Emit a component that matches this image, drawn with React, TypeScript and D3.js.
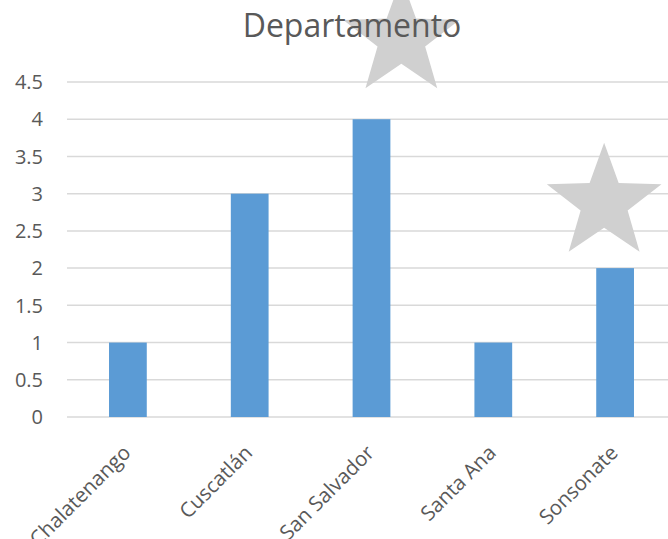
import { useEffect, useRef } from 'react'
import * as d3 from 'd3'

const categories = ['Chalatenango', 'Cuscatlán', 'San Salvador', 'Santa Ana', 'Sonsonate']
const values = [1, 3, 4, 1, 2]
const yTicks = [0, 0.5, 1, 1.5, 2, 2.5, 3, 3.5, 4, 4.5]
const title = 'Departamento'

// decorative stars: category band, position inside band (0..1), value at centre, radius in value units
const starCats = ['San Salvador', 'Sonsonate']
const starBandPos = [0.745, 0.41]
const starValues = [5.08, 2.875]
const starRadius = [0.82, 0.81]

const W = 668, H = 539
const m = { top: 82, right: -8, bottom: 122, left: 67 }
const FONT = '"Open Sans", sans-serif'

export default function App() {
  const svgRef = useRef<SVGSVGElement>(null)

  useEffect(() => {
    if (!svgRef.current) return
    const svg = d3.select(svgRef.current)
    svg.selectAll('*').remove()

    const x = d3.scaleBand<string>().domain(categories)
      .range([m.left, W - m.right]).paddingInner(0.69).paddingOuter(0.345)
    const y = d3.scaleLinear().domain([0, 4.5]).range([H - m.bottom, m.top])
    const step = x.step()

    // grid
    svg.append('g').selectAll('line').data(yTicks).join('line')
      .attr('x1', m.left).attr('x2', W)
      .attr('y1', d => y(d)).attr('y2', d => y(d))
      .attr('stroke', '#d9d9d9').attr('stroke-width', 1.5)

    // y tick labels
    svg.append('g').selectAll('text').data(yTicks).join('text')
      .attr('x', 43).attr('y', d => y(d)).attr('dy', '0.36em')
      .attr('text-anchor', 'end').attr('font-family', FONT).attr('font-size', 20)
      .attr('fill', '#595959').text(d => String(d))

    // bars
    svg.append('g').selectAll('rect').data(values).join('rect')
      .attr('x', (_, i) => x(categories[i])!)
      .attr('width', x.bandwidth())
      .attr('y', d => y(d)).attr('height', d => y(0) - y(d))
      .attr('fill', '#5b9bd5')

    // x labels
    svg.append('g').selectAll('text').data(categories).join('text')
      .attr('transform', d => `translate(${x(d)! + x.bandwidth() / 2 + 4},${y(0) + 37}) rotate(-45)`)
      .attr('text-anchor', 'end').attr('font-family', FONT).attr('font-size', 20.5)
      .attr('fill', '#595959').text(d => d)

    // stars
    const starPts = (cx: number, cy: number, R: number) => {
      const r = R * 0.41
      return d3.range(10).map(k => {
        const a = -Math.PI / 2 + k * Math.PI / 5
        const rr = k % 2 === 0 ? R : r
        return [cx + rr * Math.cos(a), cy + rr * Math.sin(a)] as [number, number]
      })
    }
    starCats.forEach((c, i) => {
      const cx = x(c)! - step * x.paddingInner() / 2 + starBandPos[i] * step
      const cy = y(starValues[i])
      const R = y(0) - y(starRadius[i])
      svg.append('path')
        .attr('d', d3.line()(starPts(cx, cy, R)) + 'Z')
        .attr('fill', '#d0d0d0')
    })

    // title
    svg.append('text').attr('x', 352).attr('y', 37)
      .attr('text-anchor', 'middle').attr('font-family', FONT).attr('font-size', 32)
      .attr('fill', '#595959').text(title)
  }, [])

  return (
    <div style={{ position: 'absolute', left: 0, top: 0, background: '#fff' }}>
      <svg ref={svgRef} width={W} height={H} style={{ display: 'block' }} />
    </div>
  )
}
